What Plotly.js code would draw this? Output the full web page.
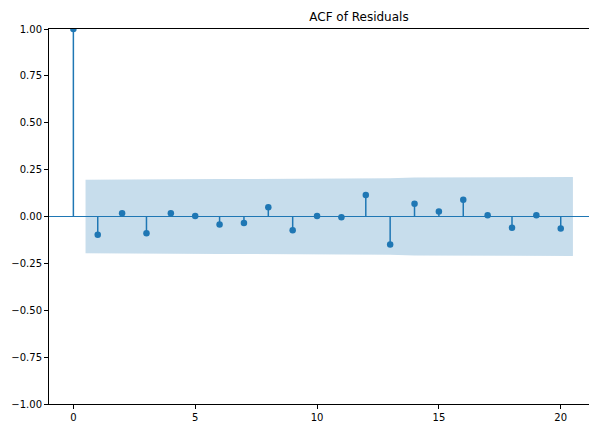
<!DOCTYPE html>
<html>
<head>
<meta charset="utf-8">
<script src="https://cdn.plot.ly/plotly-3.0.1.min.js"></script>
<style>html,body{margin:0;padding:0;background:#fff;}#chart{width:589px;height:421px;}</style>
</head>
<body>
<div id="chart"></div>
<script>
// Lags and autocorrelation values
const lags = [0,1,2,3,4,5,6,7,8,9,10,11,12,13,14,15,16,17,18,19,20];
const acfValues = [1.0,-0.097,0.018,-0.089,0.018,0.003,-0.043,-0.034,0.050,-0.073,0.003,-0.004,0.115,-0.149,0.068,0.027,0.089,0.007,-0.060,0.007,-0.064];
// Confidence band (centred on zero)
const bandX = [0.5,2,3,4,5,6,7,8,9,10,11,12,13,14,15,16,17,18,19,20.5];
const bandUpper = [0.196,0.198,0.198,0.199,0.200,0.200,0.200,0.200,0.201,0.202,0.202,0.202,0.204,0.208,0.209,0.209,0.211,0.211,0.211,0.211];
const bandLower = [-0.196,-0.198,-0.198,-0.199,-0.200,-0.200,-0.200,-0.200,-0.201,-0.202,-0.202,-0.202,-0.204,-0.208,-0.209,-0.209,-0.211,-0.211,-0.211,-0.211];
const xTicks = [0,5,10,15,20];
const yTicks = [-1,-0.75,-0.5,-0.25,0,0.25,0.5,0.75,1];
const titleText = "ACF of Residuals";

const C0 = '#1f77b4';
const stemX = [], stemY = [];
lags.forEach((k, i) => { stemX.push(k, k, null); stemY.push(0, acfValues[i], null); });

const traces = [
  {x: bandX, y: bandLower, type: 'scatter', mode: 'lines', line: {width: 0, color: 'rgba(0,0,0,0)'}, hoverinfo: 'skip', showlegend: false},
  {x: bandX, y: bandUpper, type: 'scatter', mode: 'lines', fill: 'tonexty', fillcolor: 'rgba(31,119,180,0.25)', line: {width: 0, color: 'rgba(0,0,0,0)'}, hoverinfo: 'skip', showlegend: false},
  {x: stemX, y: stemY, type: 'scatter', mode: 'lines', line: {color: C0, width: 1.5}, showlegend: false},
  {x: lags, y: acfValues, type: 'scatter', mode: 'markers', marker: {color: C0, size: 6.5}, showlegend: false}
];

const layout = {
  width: 589, height: 421,
  margin: {l: 49, r: 0, t: 29, b: 17, pad: 0},
  paper_bgcolor: '#fff', plot_bgcolor: '#fff',
  font: {family: 'DejaVu Sans, sans-serif', size: 10, color: '#000'},
  title: {text: titleText, font: {family: 'DejaVu Sans, sans-serif', size: 12, color: '#000'}, x: 0.574, xanchor: 'center', y: 0.96, yanchor: 'middle', xref: 'paper', yref: 'container'},
  xaxis: {range: [-1, 21.16], tickvals: xTicks, ticktext: xTicks.map(String), ticks: 'outside', ticklen: 4, tickcolor: '#000', tickwidth: 1,
          showline: true, linecolor: '#000', linewidth: 1, mirror: true, showgrid: false, zeroline: false, automargin: false},
  yaxis: {range: [-1, 1], tickvals: yTicks, tickformat: '.2f', ticks: 'outside', ticklen: 4, tickcolor: '#000', tickwidth: 1,
          showline: true, linecolor: '#000', linewidth: 1, mirror: false, showgrid: false, zeroline: true, zerolinecolor: C0, zerolinewidth: 1.5, automargin: false},
  showlegend: false
};

Plotly.newPlot('chart', traces, layout, {displayModeBar: false, staticPlot: true});
</script>
</body>
</html>
